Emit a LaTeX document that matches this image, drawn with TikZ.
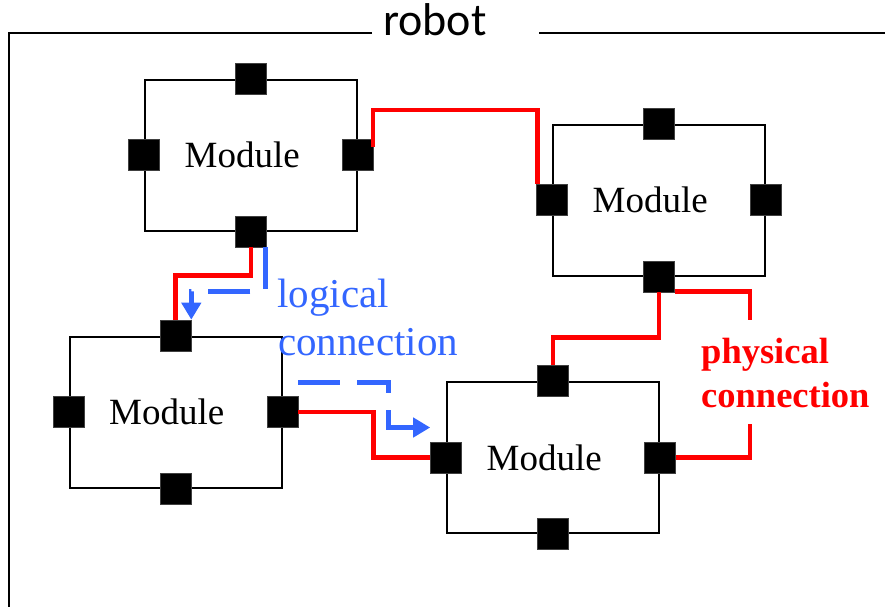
\documentclass[tikz,border=0pt]{standalone}
\usepackage{fontspec}
\setmainfont{Liberation Serif}
\newfontfamily\calibrifont{Carlito}
\usetikzlibrary{arrows.meta,calc}
\definecolor{logblue}{RGB}{51,102,255}
\definecolor{physred}{RGB}{255,0,0}
\begin{document}
\begin{tikzpicture}[x=1pt,y=-1pt,
  module/.style={draw=black,line width=2pt,minimum width=212pt,minimum height=151pt,inner sep=0pt},
  port/.style={fill=black,draw=black!75,line width=0.6pt,minimum size=31pt,inner sep=0pt},
  modtext/.style={anchor=base west,inner sep=0pt,font=\fontsize{37}{40}\selectfont},
  phys/.style={draw=physred,line width=4.6pt,line join=miter},
  logi/.style={draw=logblue,line width=4.6pt,dash pattern=on 42pt off 17pt,-{Triangle[length=17pt,width=19pt]}},
  frameline/.style={draw=black,line width=2pt}]
\useasboundingbox (0,0) rectangle (885,606);

% frame
\node[anchor=base west,inner sep=0pt,font=\calibrifont\fontsize{46}{50}\selectfont] (robot) at (383,35) {robot};
\draw[frameline] (372,33) -| (9,610);
\draw[frameline] (539,33) -- (890,33);

% modules
\node[module] (m1) at (251,155) {};
\node[module] (m2) at (659,200) {};
\node[module] (m3) at (175.5,412) {};
\node[module] (m4) at (553,457.5) {};

\foreach \m in {m1,m2,m3,m4}{
  \node[modtext] (\m t) at ($(\m.west)+(40.5,12.5)$) {Module};
  \node[port] (\m n) at (\m.north) {};
  \node[port] (\m s) at (\m.south) {};
  \node[port] (\m w) at (\m.west) {};
  \node[port] (\m e) at (\m.east) {};
}

% physical connections
\draw[phys] ([shift={(-1,-8)}]m1e.east) -- ++(0,-37) -| ([xshift=1pt]m2w.north west);
\draw[phys] (m1s.south) -- ++(0,28) -| (m3n.north);
\draw[phys] (m3e.east) -- ++(75,0) |- (m4w.west);
\draw[phys] (m2s.south) -- ++(0,45) -| (m4n.north);
\coordinate (pcA) at (750,320);
\coordinate (pcB) at (750,424);
\draw[phys] ([yshift=1pt]m2s.south east) -| (pcA);
\draw[phys] (pcB) |- (m4e.east);

% logical connections
\draw[logi] ([xshift=-1.5pt]m1s.south east) -- ++(0,44) -| (m3n.north east);
\draw[logi] ([yshift=14pt]m3e.north east) -- ++(90,0) |- ([yshift=30pt]m4w.west);

% labels
\node[anchor=base west,inner sep=0pt,text=logblue,font=\fontsize{41}{48}\selectfont] (lc1) at (277,307) {logical};
\node[anchor=base west,inner sep=0pt,text=logblue,font=\fontsize{41}{48}\selectfont] (lc2) at (278,355) {connection};
\node[anchor=base west,inner sep=0pt,text=physred,font=\bfseries\fontsize{36.5}{44}\selectfont] (pc1) at (701,363) {physical};
\node[anchor=base west,inner sep=0pt,text=physred,font=\bfseries\fontsize{36.5}{44}\selectfont] (pc2) at (701,407) {connection};
\end{tikzpicture}
\end{document}
